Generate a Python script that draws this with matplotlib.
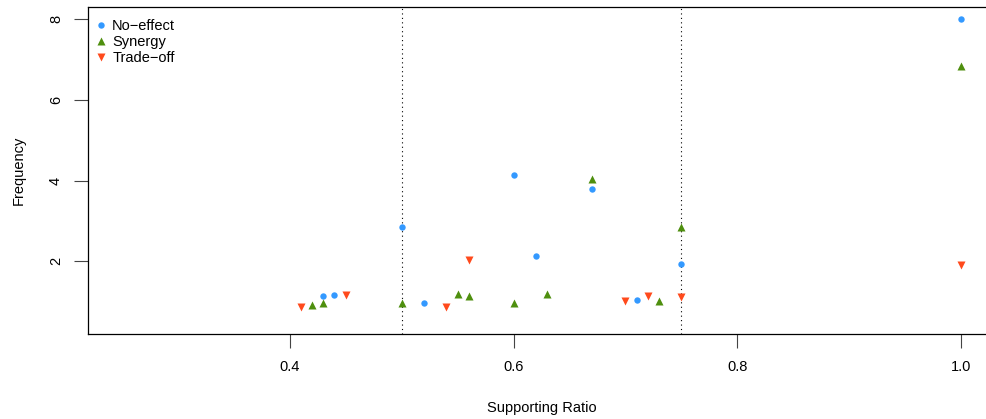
import matplotlib.pyplot as plt

plt.rcParams['font.family'] = ['Liberation Sans', 'DejaVu Sans']

# supporting ratio / frequency per group
noeffect_x = [0.43, 0.44, 0.50, 0.52, 0.60, 0.62, 0.67, 0.71, 0.75, 1.00]
noeffect_y = [1.13, 1.16, 2.84, 0.98, 4.15, 2.14, 3.80, 1.04, 1.94, 8.00]

synergy_x = [0.42, 0.43, 0.50, 0.55, 0.56, 0.60, 0.63, 0.67, 0.73, 0.75, 1.00]
synergy_y = [0.92, 0.98, 0.97, 1.19, 1.13, 0.98, 1.20, 4.05, 1.01, 2.86, 6.83]

tradeoff_x = [0.41, 0.45, 0.54, 0.56, 0.70, 0.72, 0.75, 1.00]
tradeoff_y = [0.88, 1.17, 0.88, 2.03, 1.02, 1.14, 1.11, 1.92]

blue = "#3399FF"
green = "#4E8F0E"
red = "#FF4A1C"

fig = plt.figure(figsize=(9.87, 4.19), dpi=100)
ax = fig.add_axes([88/987, 85/419, (995-88)/987, (412-85)/419])

ax.axvline(0.5, color="black", ls=(0, (1, 3)), lw=0.8, zorder=1)
ax.axvline(0.75, color="black", ls=(0, (1, 3)), lw=0.8, zorder=1)

ax.plot(noeffect_x, noeffect_y, "o", color=blue, ms=4.6, mec="none", label="No\u2212effect", zorder=3)
ax.plot(synergy_x, synergy_y, "^", color=green, ms=5.6, mec="none", label="Synergy", zorder=3)
ax.plot(tradeoff_x, tradeoff_y, "v", color=red, ms=5.6, mec="none", label="Trade\u2212off", zorder=3)

ax.set_xlim(0.22, 1.03)
ax.set_ylim(0.2, 8.3)
ax.set_xticks([0.4, 0.6, 0.8, 1.0])
ax.set_xticklabels(["0.4", "0.6", "0.8", "1.0"])
ax.set_yticks([2, 4, 6, 8])
ax.set_yticklabels(["2", "4", "6", "8"], rotation=90, va="center")
ax.tick_params(axis="both", length=10, width=0.8, labelsize=10.5, color="#444444")
ax.tick_params(axis="x", pad=9)
ax.tick_params(axis="y", pad=8)

for s in ax.spines.values():
    s.set_linewidth(0.9)
ax.spines["right"].set_visible(False)

ax.set_xlabel("Supporting Ratio", fontsize=10.5, labelpad=19)
ax.set_ylabel("Frequency", fontsize=10.5, labelpad=17)

ax.legend(loc="upper left", bbox_to_anchor=(-0.0055, 0.991), frameon=False,
          fontsize=10.5, handletextpad=0.2, labelspacing=0.15,
          borderaxespad=0.3, handlelength=1.2, borderpad=0.3)

fig.savefig("out.png", dpi=100)
